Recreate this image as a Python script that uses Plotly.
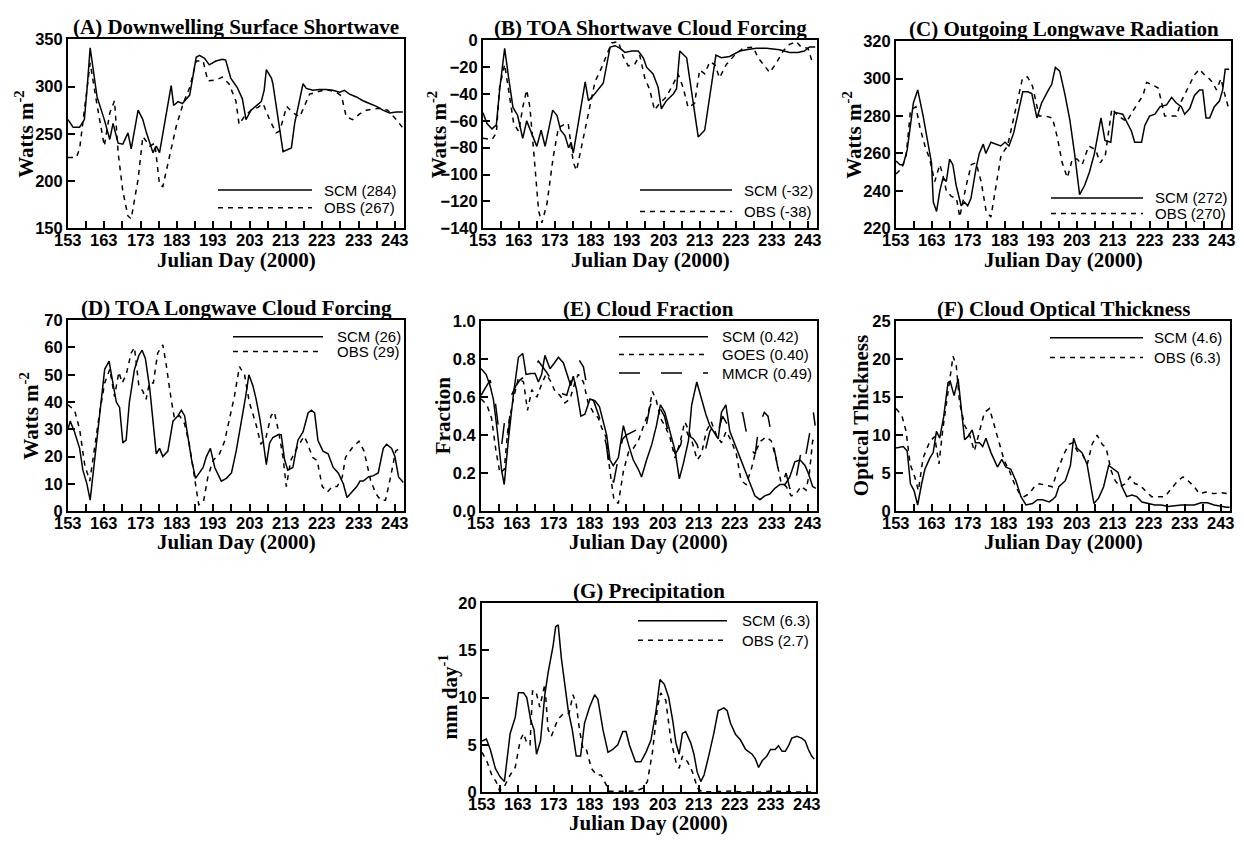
import plotly.graph_objects as go

W, H = 1244, 846

# ---------------- (A) Downwelling Surface Shortwave, W m-2
a_scm_day = [153, 154.4, 156.2, 157.5, 158.3, 159.1, 161, 163, 164.5, 165.4, 166.8, 168.1, 169.5, 170.4, 172.3, 173.6, 174.6, 176.4, 177.3, 178.2, 181.4, 182.1, 183.3, 184.5, 186.5, 188.3, 189.2, 190.6, 191.9, 193.7, 195.5, 196.4, 197.8, 199.6, 201, 202, 203.4, 204.8, 206.2, 207, 207.6, 209, 209.4, 212.2, 213.2, 214.5, 215.4, 217.7, 218.6, 220.4, 222.3, 224, 225.9, 227.8, 229.1, 230.5, 232.4, 234.2, 236, 237.9, 239.7, 241.5, 243.4, 245.2]
a_scm = [265, 257, 257, 265, 300, 341, 289, 265, 244, 261, 240, 239, 251, 234, 275, 265, 251, 230, 237, 230, 301, 280, 284, 282, 291, 331, 333, 330, 323, 327, 329, 328, 309, 299, 287, 265, 275, 280, 284, 296, 318, 309, 303, 231, 233, 235, 261, 303, 298, 296, 297, 297, 296, 294, 296, 292, 289, 285, 282, 279, 275, 272, 273, 273]
a_obs_day = [153, 155.3, 156.2, 157.6, 159.1, 160.8, 163, 164.5, 165.8, 166.8, 168.1, 169.5, 170.4, 172.3, 173.6, 175.5, 176.9, 178.2, 179.1, 181, 182.8, 184.7, 186.5, 188.3, 190.2, 191.5, 193.7, 195.5, 197.3, 199.2, 200.1, 201.5, 203.4, 205.3, 206.7, 208.5, 210.3, 211.3, 213.2, 215, 216.8, 219.5, 221.4, 224.1, 226.9, 228.3, 229.6, 231.4, 233.3, 235.1, 238.7, 241, 243.4, 245.2]
a_obs = [225, 225, 234, 278, 325, 285, 237, 272, 285, 230, 189, 163, 160, 202, 247, 237, 240, 196, 194, 227, 258, 282, 299, 327, 327, 306, 307, 310, 303, 285, 260, 268, 275, 278, 282, 265, 251, 253, 279, 272, 268, 292, 294, 297, 294, 290, 268, 265, 271, 275, 277, 275, 265, 256]

# ---------------- (B) TOA Shortwave Cloud Forcing, W m-2
b_scm_day = [153, 154.1, 155.5, 156.7, 157.6, 159, 160.1, 161.3, 162.6, 164, 165.1, 166.8, 167.9, 169.1, 170.2, 172.3, 173.5, 174.5, 175.7, 176.7, 177.4, 178, 181.3, 182.2, 183.6, 185.4, 186.3, 188.2, 189.6, 191, 192.3, 194.2, 196, 197.4, 198.3, 200.1, 201.5, 202.4, 203.8, 205.7, 206.6, 207.5, 209.4, 212.6, 214.4, 217.5, 219, 221.3, 224.1, 225.9, 228.7, 231.5, 235.1, 237.9, 240.2, 242, 243.4, 245]
b_scm = [-54, -62, -66, -63, -37, -6, -28, -50, -56, -73, -60, -71, -79, -67, -79, -52, -56, -67, -71, -80, -76, -84, -31, -45, -41, -35, -32, -5, -4, -6, -9, -8, -8, -13, -20, -25, -35, -51, -45, -40, -36, -8, -13, -72, -67, -11, -13, -12, -8, -7, -6, -6, -7, -9, -9, -8, -5, -5]
b_obs_day = [153, 155.5, 156.7, 157.6, 159, 160.1, 161.5, 162.9, 164, 165.1, 166, 167.2, 168.4, 169.3, 170.7, 172.5, 173.9, 175.3, 176.6, 178, 178.9, 180.3, 182.2, 184, 185.9, 187.2, 188.6, 190.5, 191.8, 193.2, 195, 196.4, 197.8, 199.2, 200.5, 201.9, 203.8, 205.6, 207, 208.4, 209.8, 211.6, 213, 214.4, 215.8, 217.2, 218.5, 220.4, 222.7, 225, 227.8, 229.2, 231, 232.4, 234.2, 236.1, 237.9, 239.8, 241.1, 243, 244.4]
b_obs = [-73, -74, -69, -35, -18, -37, -62, -68, -50, -37, -50, -88, -127, -136, -122, -86, -65, -63, -62, -91, -97, -79, -54, -31, -20, -11, -2, -1, -12, -19, -18, -11, -28, -37, -52, -47, -42, -33, -25, -35, -50, -47, -22, -25, -16, -18, -28, -18, -11, -6, -5, -13, -19, -24, -17, -8, -3, -1, -5, -6, -18]

# ---------------- (C) Outgoing Longwave Radiation, W m-2
c_scm_day = [153, 154.1, 155, 156.1, 157.8, 159, 160.5, 161.9, 162.8, 163.3, 164.2, 165.1, 166, 166.9, 167.8, 168.7, 169.6, 171, 171.9, 172.8, 173.7, 175.1, 176, 177.1, 177.8, 179.2, 180.5, 181.9, 183.1, 184.2, 185.5, 187.3, 188, 189.4, 190.5, 191.9, 193.2, 195.1, 196, 197, 198.2, 199.6, 201, 202.3, 203.7, 205.1, 206.4, 207.8, 209.6, 210.7, 212.3, 213.3, 215.6, 218, 218.9, 220.8, 221.7, 223, 224.5, 225.9, 227.7, 229.1, 230.4, 231.8, 232.7, 234.1, 235.4, 236.8, 237.7, 238.6, 239.6, 240.9, 242.3, 243.2, 243.9, 245]
c_scm = [256, 254, 254, 262, 287, 294, 280, 264, 255, 234, 229, 240, 247, 245, 257, 254, 243, 232, 234, 232, 236, 252, 260, 265, 260, 266, 265, 264, 266, 264, 271, 287, 293, 293, 292, 279, 287, 294, 297, 306, 304, 292, 278, 260, 238, 243, 250, 260, 279, 267, 266, 282, 281, 272, 266, 266, 275, 280, 281, 285, 286, 290, 287, 285, 281, 284, 291, 294, 294, 279, 279, 285, 288, 294, 305, 305]
c_obs_day = [153, 154.6, 155.8, 157, 158.5, 159.6, 161, 162.3, 163.7, 165.1, 166, 166.9, 168.3, 169.7, 170.6, 172.4, 173.8, 175.1, 176.5, 177.9, 179.2, 180.6, 182, 183.8, 186.1, 187.9, 189.3, 190.7, 192.5, 194.3, 196.2, 197.5, 198.9, 200.3, 201.7, 203, 204.4, 206.2, 208.1, 209.4, 210.8, 212.6, 214.4, 216.7, 218.5, 219.9, 221.2, 222.2, 223.5, 225.4, 227.2, 229, 230.4, 231.8, 233.6, 235.4, 236.8, 238.2, 239.5, 240.4, 241.5, 242.7, 244, 245]
c_obs = [249, 252, 259, 283, 285, 274, 264, 257, 245, 254, 248, 240, 237, 236, 226, 243, 254, 255, 245, 229, 226, 243, 259, 264, 285, 300, 301, 296, 280, 280, 279, 269, 255, 247, 257, 257, 254, 264, 262, 255, 259, 284, 280, 277, 283, 287, 291, 298, 297, 295, 280, 280, 280, 288, 295, 302, 305, 302, 300, 298, 294, 300, 290, 283]

# ---------------- (D) TOA Longwave Cloud Forcing, W m-2
d_scm_day = [153, 153.6, 154.8, 156.2, 157.1, 158.2, 159.1, 160.3, 161.7, 163.1, 164.3, 165.4, 166.3, 167.2, 168.1, 169, 169.9, 171.3, 172.5, 173.4, 174.3, 175.5, 176.4, 177.3, 178.2, 179.1, 180.5, 181.9, 183.3, 184.2, 185.1, 186, 187, 188.1, 189.2, 190.2, 191.1, 192.2, 193.4, 195.2, 196.6, 198, 199.3, 200.7, 201.9, 202.8, 203.9, 204.8, 205.8, 206.7, 207.6, 208.5, 209.4, 210.8, 211.7, 212.6, 213.5, 214.9, 216.3, 217.7, 219.1, 220, 220.9, 221.8, 223.2, 224.6, 226, 227.4, 228.8, 229.8, 231.1, 232.5, 233.4, 234.3, 235.7, 237.1, 238.4, 239.8, 240.7, 242.1, 243, 244, 245.3]
d_scm = [30, 33, 29, 23, 15, 10, 4, 18, 34, 52, 55, 46, 40, 38, 25, 26, 40, 52, 57, 59, 56, 45, 32, 21, 23, 20, 22, 33, 35, 37, 35, 27, 19, 12, 14, 16, 20, 23, 16, 11, 12, 14, 22, 32, 42, 50, 46, 41, 34, 26, 17, 25, 27, 28, 28, 19, 15, 16, 26, 29, 36, 37, 36, 26, 22, 21, 16, 14, 10, 5, 7, 9, 11, 11, 12.5, 13, 14, 23, 24.5, 23, 20, 12.5, 10.5]
d_obs_day = [153, 154.8, 156.2, 157.6, 159, 160.3, 161.7, 163.1, 164.5, 165.8, 167, 167.9, 169, 170.4, 171.3, 172.5, 173.6, 174.5, 175.4, 176.5, 177.7, 179.1, 180, 181.4, 182.3, 183.7, 185.1, 186.4, 187.8, 189, 190.3, 191.5, 192.9, 194.7, 196.1, 197.4, 198.8, 200.2, 201.6, 202.9, 204.8, 206.1, 207.5, 208.9, 209.8, 211, 212.2, 213.1, 214.3, 216.1, 218, 218.9, 220.3, 221.6, 223, 224.4, 225.8, 227.1, 228.5, 229.4, 231.3, 233.1, 234.5, 236.3, 237.7, 239.1, 240.4, 241.8, 243.2, 244.5]
d_obs = [39, 37, 30, 17, 11, 24, 36, 47, 52, 42, 51, 47, 50, 58, 60, 46, 44, 41, 47, 47, 58, 61, 54, 41, 34, 35, 32, 24.5, 12.5, 2.3, 3.5, 12.5, 18.5, 21, 25.6, 33, 42, 53, 50, 40, 31.6, 24.5, 27, 35, 36.4, 29, 19.7, 9, 18.5, 23.3, 27.4, 25, 19.7, 18.5, 9, 7, 9, 9, 12.5, 19.7, 23.3, 25.6, 22, 11.3, 6.5, 4, 4, 12.5, 22, 23.3]

# ---------------- (E) Cloud Fraction
e_scm_day = [153, 154.4, 155.5, 156.4, 157.5, 158.7, 159.4, 160.5, 161.9, 163.3, 164.5, 165.4, 166.7, 167.9, 168.8, 169.7, 170.6, 172, 173.2, 174.3, 175.7, 176.8, 177.7, 178.4, 179.3, 180.5, 181.6, 183, 184.4, 185.6, 186.7, 187.6, 188.5, 189.4, 190.8, 192.2, 193.6, 194.9, 196.3, 197.2, 198.6, 200, 201.3, 202.4, 203.6, 205, 206.4, 207.6, 208.7, 210.1, 211, 212.4, 213.7, 214.9, 216, 217.4, 218.3, 219.2, 220.4, 221.5, 222.9, 224.2, 225.7, 227, 228.4, 229.8, 231.1, 232.5, 233.9, 235.3, 236.7, 238, 239.4, 240.8, 242.2, 243.1, 244.3, 245.2]
e_scm = [0.75, 0.72, 0.66, 0.59, 0.42, 0.21, 0.14, 0.37, 0.61, 0.81, 0.83, 0.72, 0.725, 0.725, 0.68, 0.72, 0.82, 0.75, 0.78, 0.81, 0.78, 0.72, 0.66, 0.71, 0.64, 0.50, 0.51, 0.59, 0.58, 0.55, 0.47, 0.40, 0.27, 0.24, 0.28, 0.45, 0.35, 0.27, 0.22, 0.18, 0.27, 0.35, 0.45, 0.56, 0.52, 0.42, 0.32, 0.17, 0.25, 0.37, 0.56, 0.68, 0.59, 0.51, 0.45, 0.41, 0.38, 0.52, 0.56, 0.42, 0.35, 0.28, 0.21, 0.14, 0.08, 0.06, 0.08, 0.09, 0.12, 0.14, 0.14, 0.18, 0.26, 0.27, 0.24, 0.20, 0.13, 0.12]
e_goes_day = [153, 154.6, 155.9, 157.1, 158.2, 159.4, 160.5, 161.9, 163.3, 164.7, 165.8, 167, 168.4, 169.7, 170.9, 172, 173.4, 174.7, 176.1, 177.5, 178.9, 179.8, 181.2, 182.5, 183.9, 185.3, 186.2, 187.4, 188.5, 189.6, 190.8, 192.2, 193.6, 194.9, 196.3, 197.7, 199.1, 200.2, 201.3, 202.4, 203.6, 205, 206.4, 207.8, 209.1, 210.3, 211.4, 212.5, 213.7, 215, 216.4, 217.8, 219.2, 220.5, 221.9, 223.3, 224.6, 226, 227.4, 228.7, 230.1, 231.5, 232.9, 234.2, 235.6, 237, 238.4, 239.7, 241.1, 242.5, 243.4, 244.3, 245]
e_goes = [0.59, 0.56, 0.49, 0.32, 0.20, 0.22, 0.45, 0.59, 0.70, 0.68, 0.53, 0.64, 0.60, 0.67, 0.72, 0.69, 0.63, 0.61, 0.57, 0.59, 0.68, 0.72, 0.68, 0.57, 0.52, 0.49, 0.44, 0.39, 0.21, 0.06, 0.04, 0.21, 0.31, 0.33, 0.37, 0.44, 0.52, 0.63, 0.58, 0.49, 0.45, 0.39, 0.28, 0.36, 0.47, 0.42, 0.35, 0.27, 0.30, 0.42, 0.47, 0.40, 0.36, 0.42, 0.37, 0.30, 0.16, 0.14, 0.22, 0.32, 0.37, 0.39, 0.37, 0.28, 0.15, 0.13, 0.08, 0.09, 0.13, 0.11, 0.20, 0.37, 0.39]
e_mmcr_day = [153, 155.5, 156.9, 157.8, 158.7, 159.6, 160.5, 161.4, 162.6, 163.7, 165.1, 166.4, 167.6, 168.8, 170, 171.1, 172.4, 173.8, 175.2, 176.6, 177.5, 178.4, 179.3, 180.2, 181.2, 182.5, 184, 185.5, 186.5, 187.5, 188.5, 189.5, 190.5, 192, 193, 195, 196, 197.5, 198.5, 199.5, 200.5, 202, 203.5, 204.5, 205.5, 206.5, 208, 209, 210, 211.5, 212.5, 213.5, 214.5, 216, 217, 218, 219.5, 221, 222.5, 223.5, 225, 226, 227.5, 228.5, 229.5, 231, 232, 233, 234, 235, 236, 237, 238, 239, 240, 241, 242, 243.5, 244.5, 245]
e_mmcr = [0.61, 0.69, 0.58, 0.44, 0.35, 0.49, 0.40, 0.61, 0.66, 0.69, 0.71, 0.73, 0.75, 0.79, 0.76, 0.73, 0.69, 0.65, 0.62, 0.61, 0.67, 0.73, 0.78, 0.79, 0.76, 0.62, 0.58, 0.50, 0.42, 0.35, 0.20, 0.15, 0.25, 0.38, 0.40, 0.42, 0.43, 0.40, 0.45, 0.55, 0.60, 0.55, 0.50, 0.42, 0.35, 0.30, 0.35, 0.45, 0.40, 0.38, 0.35, 0.28, 0.30, 0.42, 0.45, 0.40, 0.50, 0.45, 0.47, 0.48, 0.52, 0.42, 0.32, 0.30, 0.45, 0.52, 0.50, 0.40, 0.30, 0.20, 0.15, 0.20, 0.12, 0.10, 0.20, 0.30, 0.25, 0.40, 0.52, 0.45]

# ---------------- (F) Cloud Optical Thickness
f_scm_day = [153, 155, 156.1, 157, 158, 159, 160.1, 161, 162.4, 163.3, 164.2, 165.1, 166.2, 167.4, 168, 169.1, 170.2, 172, 172.9, 174.1, 175, 176.1, 177, 177.9, 179.3, 181.1, 182.3, 183.4, 184.8, 186.2, 187.6, 189, 190.8, 192.2, 193.6, 195.4, 196.3, 197.2, 198.1, 199.9, 201.3, 202.2, 203.1, 204.5, 205.9, 206.8, 207.8, 209.1, 210.5, 211.9, 213.3, 214.5, 215.6, 216.9, 218.3, 219.7, 221.1, 222.9, 224.7, 226.5, 228.4, 230.2, 232, 233.8, 235.6, 237.5, 239.3, 241.1, 242.9, 244.6, 245.4]
f_scm = [8.3, 8.5, 7.9, 3.6, 2.7, 0.8, 3.6, 5.5, 7.0, 7.7, 10.5, 9.6, 12.4, 16.9, 17.1, 15.2, 17.4, 9.4, 9.8, 10.7, 9.0, 9.0, 8.5, 9.6, 7.7, 5.8, 6.8, 5.8, 5.5, 4.0, 1.9, 0.8, 1.0, 1.5, 1.5, 1.2, 1.5, 1.9, 3.2, 4.0, 6.0, 9.6, 8.3, 7.7, 6.2, 3.6, 1.0, 1.7, 3.2, 6.0, 5.5, 5.1, 3.2, 1.9, 2.1, 1.9, 1.2, 1.0, 0.8, 0.8, 0.6, 0.7, 0.8, 0.8, 0.8, 1.1, 1.1, 0.8, 0.6, 0.5, 0.5]
f_obs_day = [153, 154.6, 155.8, 156.9, 158.2, 159.2, 160.5, 162.4, 163.7, 164.9, 166, 167.4, 168.8, 169.7, 170.6, 172, 173.4, 174.7, 176.1, 177.5, 178.9, 180.2, 181.6, 183, 184.4, 185.8, 187.2, 188.5, 189.9, 191.3, 192.7, 194.5, 196.3, 197.7, 199.5, 200.9, 202, 203.2, 204.6, 206, 207.3, 208.7, 210.1, 211.2, 212.6, 213.7, 215.1, 216.5, 217.8, 219.2, 220.6, 222, 223.8, 225.6, 227.5, 229.3, 231.1, 232.5, 233.9, 235.6, 237, 238.9, 241.1, 243.4, 245]
f_obs = [13.5, 12.6, 10.5, 6.2, 4.5, 2.7, 7.0, 9.2, 9.8, 6.2, 10.9, 16.0, 20.4, 19.1, 14.3, 11.3, 10.0, 7.9, 10.5, 13.0, 13.5, 11.3, 9.2, 6.6, 5.3, 3.6, 2.3, 1.9, 2.3, 3.2, 3.6, 3.4, 3.2, 5.3, 7.5, 8.8, 9.0, 7.9, 7.5, 6.2, 8.8, 10.0, 8.8, 8.3, 5.3, 4.0, 3.2, 3.6, 4.5, 3.6, 3.4, 2.7, 1.9, 1.9, 1.9, 3.0, 4.0, 4.5, 4.0, 3.2, 2.3, 2.5, 2.3, 2.4, 2.3]

# ---------------- (G) Precipitation, mm day-1
g_scm_day = [153, 154.2, 155.3, 156.7, 158, 159.2, 160.8, 162.2, 163.1, 164.5, 165.4, 166.5, 167.4, 168.1, 169.2, 170.4, 171.3, 172.7, 173.4, 174.1, 175, 175.9, 176.9, 178, 179.1, 180.3, 181.4, 182.8, 184.2, 185.1, 186.5, 187.9, 189.2, 190.6, 192, 192.9, 193.8, 195.5, 197, 198.4, 199.8, 201.2, 202.3, 203.5, 204.7, 205.8, 206.7, 207.6, 208.5, 209.4, 210.8, 211.7, 212.6, 213.6, 214.5, 215.9, 217.2, 218.4, 220, 220.9, 221.8, 223.2, 224.6, 226, 227.8, 228.7, 229.6, 230.6, 231.9, 232.9, 234.2, 235.1, 236.1, 237, 237.9, 238.8, 240.2, 241.5, 242.5, 243.4, 244.3, 245]
g_scm = [5.4, 5.6, 4.5, 2.5, 1.6, 1.1, 6.2, 7.9, 10.5, 10.5, 10.0, 7.6, 6.6, 4.0, 5.4, 10.3, 12.6, 15.5, 17.5, 17.7, 14.1, 11.4, 8.6, 6.6, 3.8, 3.8, 7.3, 9.0, 10.3, 9.8, 6.6, 4.2, 4.5, 5.0, 6.4, 6.4, 5.0, 3.2, 3.2, 4.2, 5.5, 8.6, 11.9, 11.4, 10.0, 7.6, 5.2, 4.0, 6.2, 6.4, 5.2, 4.0, 2.1, 1.1, 1.8, 4.0, 6.2, 8.6, 8.9, 8.6, 7.3, 6.1, 5.5, 4.5, 4.0, 3.5, 2.6, 3.3, 3.8, 4.5, 4.5, 4.9, 4.3, 4.3, 4.9, 5.7, 5.9, 5.7, 5.4, 4.5, 3.8, 3.5]
g_obs_day = [153, 154.4, 155.7, 156.9, 157.9, 159.2, 160.8, 162.2, 163.6, 164.5, 165.4, 166.3, 167, 167.9, 169, 170.4, 171.3, 172.2, 173.6, 174.5, 175.6, 177.1, 178.2, 179.1, 180, 181, 181.9, 183.3, 184.7, 186, 187.4, 188.3, 190.1, 192, 193.8, 195.6, 197.5, 198.8, 200.2, 201.6, 202.5, 203.9, 205.3, 206.7, 207.6, 208.5, 209.9, 211.3, 212.7, 214, 219, 222, 225, 230, 233, 236, 240, 245]
g_obs = [4.2, 3.2, 1.8, 1.1, 0.1, 0.6, 1.8, 2.6, 5.5, 6.2, 5.2, 5.0, 10.7, 10.7, 9.0, 11.4, 6.6, 5.9, 7.3, 7.9, 8.3, 8.3, 10.3, 9.3, 6.6, 4.5, 4.5, 2.5, 1.8, 1.8, 0.75, 0.07, 0.07, 0.07, 0.1, 0.1, 0.4, 1.1, 4.2, 9.0, 10.5, 9.7, 5.5, 3.2, 2.5, 3.8, 3.2, 2.1, 0.4, 0.0, 0.05, 0.1, 0.0, 0.0, 0.1, 0.05, 0.0, 0.0]

day_ticks = list(range(153, 246, 5))
day_labels = list(range(153, 246, 10))

SERIF = "Liberation Serif"
SANS = "Liberation Sans"
SOLID = "solid"
SHORT = "5px,5px"
LONG = "21px,21px"
TITLE_SIZE = 21
TICK_SIZE = 16.5

# panel boxes in pixels: left, right, top, bottom
panels = [
    dict(box=(68, 404, 31, 224), title="(A) Downwelling Surface Shortwave", ytitle="Watts m<sup>-2</sup>", ytx=25,
         yrange=[150, 350], ytick=50, yfmt="",
         series=[(a_scm_day, a_scm, SOLID), (a_obs_day, a_obs, SHORT)],
         legend=dict(x0=218, x1=312, tx=322, rows=[(185, "SCM (284)", SOLID), (203, "OBS (267)", SHORT)])),
    dict(box=(483, 817, 32, 224), title="(B) TOA Shortwave Cloud Forcing", ytitle="Watts m<sup>-2</sup>", ytx=437,
         yrange=[-140, 0], ytick=20, yfmt="",
         series=[(b_scm_day, b_scm, SOLID), (b_obs_day, b_obs, SHORT)],
         legend=dict(x0=640, x1=732, tx=742, rows=[(185, "SCM (-32)", SOLID), (207, "OBS (-38)", SHORT)])),
    dict(box=(896, 1231, 33, 224), title="(C) Outgoing Longwave Radiation", ytitle="Watts m<sup>-2</sup>", ytx=853,
         yrange=[220, 320], ytick=20, yfmt="",
         series=[(c_scm_day, c_scm, SOLID), (c_obs_day, c_obs, SHORT)],
         legend=dict(x0=1051, x1=1143, tx=1153, rows=[(193, "SCM (272)", SOLID), (209, "OBS (270)", SHORT)])),
    dict(box=(68, 404, 318, 513), title="(D) TOA Longwave Cloud Forcing", ytitle="Watts m<sup>-2</sup>", ytx=30,
         yrange=[0, 70], ytick=10, yfmt="",
         series=[(d_scm_day, d_scm, SOLID), (d_obs_day, d_obs, SHORT)],
         legend=dict(x0=233, x1=323, tx=335, rows=[(335, "SCM (26)", SOLID), (350, "OBS (29)", SHORT)])),
    dict(box=(481, 817, 319, 513), title="(E) Cloud Fraction", ytitle="Fraction", ytx=443,
         yrange=[0, 1], ytick=0.2, yfmt=".1f",
         series=[(e_scm_day, e_scm, SOLID), (e_goes_day, e_goes, SHORT), (e_mmcr_day, e_mmcr, LONG)],
         legend=dict(x0=619, x1=708, tx=720, rows=[(335, "SCM (0.42)", SOLID), (353, "GOES (0.40)", SHORT),
                                                     (372, "MMCR (0.49)", LONG)])),
    dict(box=(896, 1230, 319, 513), title="(F) Cloud Optical Thickness", ytitle="Optical Thickness", ytx=861,
         yrange=[0, 25], ytick=5, yfmt="",
         series=[(f_scm_day, f_scm, SOLID), (f_obs_day, f_obs, SHORT)],
         legend=dict(x0=1050, x1=1143, tx=1152, rows=[(336, "SCM (4.6)", SOLID), (356, "OBS (6.3)", SHORT)])),
    dict(box=(482, 816, 607, 800), title="(G) Precipitation", ytitle="mm day<sup>-1</sup>", ytx=449,
         yrange=[0, 20], ytick=5, yfmt="",
         series=[(g_scm_day, g_scm, SOLID), (g_obs_day, g_obs, SHORT)],
         legend=dict(x0=638, x1=727, tx=740, rows=[(625, "SCM (6.3)", SOLID), (645, "OBS (2.7)", SHORT)])),
]


def px(x):
    return x / W


def py(y):
    return 1 - y / H


fig = go.Figure()
layout = dict(
    width=W, height=H, margin=dict(l=0, r=0, t=0, b=0),
    paper_bgcolor="white", plot_bgcolor="white", showlegend=False,
)
annotations = []
shapes = []

for i, p in enumerate(panels, start=1):
    left, right, top, bottom = p["box"]
    xa = "x" if i == 1 else f"x{i}"
    ya = "y" if i == 1 else f"y{i}"
    for days, vals, dash in p["series"]:
        fig.add_trace(go.Scatter(x=days, y=vals, mode="lines", xaxis=xa, yaxis=ya,
                                 line=dict(color="black", width=1.5, dash=dash)))
    lo, hi = p["yrange"]
    n = int(round((hi - lo) / p["ytick"]))
    yt = [lo + k * p["ytick"] for k in range(n + 1)]
    layout["xaxis" if i == 1 else f"xaxis{i}"] = dict(
        domain=[px(left), px(right)], anchor=ya, range=[153, 245.5],
        tickvals=day_ticks, showticklabels=False, ticks="inside", ticklen=7, tickwidth=1.5,
        tickcolor="black", showline=True, linecolor="black", linewidth=2, mirror=True,
        showgrid=False, zeroline=False,
    )
    layout["yaxis" if i == 1 else f"yaxis{i}"] = dict(
        domain=[py(bottom), py(top)], anchor=xa, range=[lo, hi],
        tickvals=yt, tickformat=p["yfmt"], ticks="inside", ticklen=7, tickwidth=1.5,
        tickcolor="black", showline=True, linecolor="black", linewidth=2, mirror=True,
        showgrid=False, zeroline=False,
        tickfont=dict(family=SANS, size=TICK_SIZE, color="black", weight="bold"),
    )
    # day labels sit close under the axis, placed on the axis' own scale
    for d in day_labels:
        annotations.append(dict(x=d, xref=xa, y=py(bottom + 12), yref="paper", xanchor="center",
                                yanchor="middle", showarrow=False, text=f"<b>{d}</b>",
                                font=dict(family=SANS, size=TICK_SIZE, color="black")))
    cx = (left + right) / 2
    # panel title
    annotations.append(dict(x=px(cx), y=py(top), xref="paper", yref="paper", xanchor="center",
                            yanchor="bottom", yshift=-2, showarrow=False, text=f"<b>{p['title']}</b>",
                            font=dict(family=SERIF, size=TITLE_SIZE, color="black")))
    # x-axis title
    annotations.append(dict(x=px(cx), y=py(bottom + 32), xref="paper", yref="paper", xanchor="center",
                            yanchor="middle", showarrow=False, text="<b>Julian Day (2000)</b>",
                            font=dict(family=SERIF, size=TITLE_SIZE, color="black")))
    # y-axis title
    annotations.append(dict(x=px(p["ytx"]), y=py((top + bottom) / 2), xref="paper", yref="paper",
                            xanchor="center", yanchor="middle", textangle=-90, showarrow=False,
                            text=f"<b>{p['ytitle']}</b>",
                            font=dict(family=SERIF, size=TITLE_SIZE, color="black")))
    # key
    lg = p["legend"]
    for yy, label, dash in lg["rows"]:
        shapes.append(dict(type="line", xref="paper", yref="paper", x0=px(lg["x0"]), x1=px(lg["x1"]),
                           y0=py(yy), y1=py(yy), line=dict(color="black", width=1.5, dash=dash)))
        annotations.append(dict(x=px(lg["tx"]), y=py(yy), xref="paper", yref="paper", xanchor="left",
                                yanchor="middle", showarrow=False, text=label,
                                font=dict(family=SANS, size=15, color="black")))

layout["annotations"] = annotations
layout["shapes"] = shapes
fig.update_layout(**layout)
# the page body carries a default margin; remove it so the figure sits at the window origin
fig.write_html("out.html", post_script="document.body.style.margin='0';")
